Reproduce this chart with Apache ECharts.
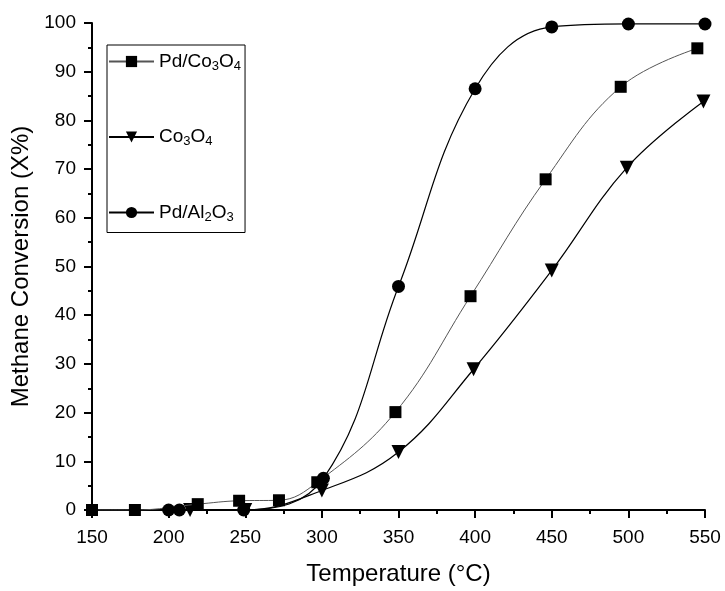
<!DOCTYPE html>
<html><head><meta charset="utf-8">
<script src="https://cdn.jsdelivr.net/npm/echarts@6/dist/echarts.min.js"></script>
<style>html,body{margin:0;padding:0;background:#fff}#c{width:725px;height:591px}</style>
</head><body><div id="c"></div>
<script>
const pdCoT = [150, 178, 219, 246, 272, 297, 348, 397, 446, 495, 545];
const pdCoV = [0, 0, 1.2, 1.9, 2.0, 5.7, 20.1, 43.9, 67.9, 86.9, 94.8];
const coT = [214, 250, 300, 350, 399, 450, 499, 549];
const coV = [0, 0, 4.0, 11.9, 28.9, 49.2, 70.3, 83.9];
const pdAlT = [200, 207, 249, 301, 350, 400, 450, 500, 550];
const pdAlV = [0, 0, 0, 6.5, 45.9, 86.5, 99.2, 99.8, 99.8];
const xTicks = [150, 200, 250, 300, 350, 400, 450, 500, 550];
const yTicks = [0, 10, 20, 30, 40, 50, 60, 70, 80, 90, 100];

const zip = (a, b) => a.map((v, i) => [v, b[i]]);
const font = 'Liberation Sans, Arial, sans-serif';
const chart = echarts.init(document.getElementById('c'));
chart.setOption({
  animation: false,
  grid: { left: 92, right: 20, top: 23, bottom: 80 },
  xAxis: {
    type: 'value', min: xTicks[0], max: xTicks[xTicks.length - 1], interval: 50,
    name: 'Temperature (°C)', nameLocation: 'middle', nameGap: 52,
    nameTextStyle: { fontFamily: font, fontSize: 24, color: '#000' },
    axisLine: { show: true, lineStyle: { color: '#000', width: 2 } },
    axisTick: { show: true, inside: false, length: 8, lineStyle: { color: '#000', width: 2 } },
    minorTick: { show: true, splitNumber: 2, length: 4, lineStyle: { color: '#000', width: 2 } },
    axisLabel: { fontFamily: font, fontSize: 19, color: '#000', margin: 18 },
    splitLine: { show: false }
  },
  yAxis: {
    type: 'value', min: yTicks[0], max: yTicks[yTicks.length - 1], interval: 10,
    name: 'Methane Conversion (X%)', nameLocation: 'middle', nameGap: 57,
    nameTextStyle: { fontFamily: font, fontSize: 24, color: '#000' },
    axisLine: { show: true, lineStyle: { color: '#000', width: 2 } },
    axisTick: { show: true, inside: false, length: 8, lineStyle: { color: '#000', width: 2 } },
    minorTick: { show: true, splitNumber: 2, length: 4, lineStyle: { color: '#000', width: 2 } },
    axisLabel: { fontFamily: font, fontSize: 19, color: '#000', margin: 16 },
    splitLine: { show: false }
  },
  legend: {
    orient: 'vertical', left: 107, top: 45,
    padding: [7, 4, 9, 1], itemGap: 55, itemWidth: 45, itemHeight: 14,
    borderColor: '#000', borderWidth: 1, backgroundColor: '#fff',
    data: ['Pd/Co3O4', 'Co3O4', 'Pd/Al2O3'],
    formatter: function (n) {
      if (n === 'Pd/Co3O4') return 'Pd/Co{s|3}O{s|4}';
      if (n === 'Co3O4') return 'Co{s|3}O{s|4}';
      return 'Pd/Al{s|2}O{s|3}';
    },
    textStyle: {
      fontFamily: font, fontSize: 19, color: '#000',
      rich: { s: { fontFamily: font, fontSize: 13, color: '#000', verticalAlign: 'bottom', padding: [9, 0, 0, 0] } }
    }
  },
  series: [
    { name: 'Pd/Co3O4', type: 'line', data: zip(pdCoT, pdCoV), smooth: 0.4,
      symbol: 'rect', symbolSize: 12, itemStyle: { color: '#000' },
      lineStyle: { color: '#555', width: 1 }, z: 3 },
    { name: 'Co3O4', type: 'line', data: zip(coT, coV), smooth: 0.4,
      symbol: 'triangle', symbolRotate: 180, symbolSize: 14, itemStyle: { color: '#000' },
      lineStyle: { color: '#000', width: 1.2 }, z: 2 },
    { name: 'Pd/Al2O3', type: 'line', data: zip(pdAlT, pdAlV), smooth: 0.4,
      symbol: 'circle', symbolSize: 13, itemStyle: { color: '#000' },
      lineStyle: { color: '#000', width: 1.2 }, z: 4 }
  ]
});
</script></body></html>
